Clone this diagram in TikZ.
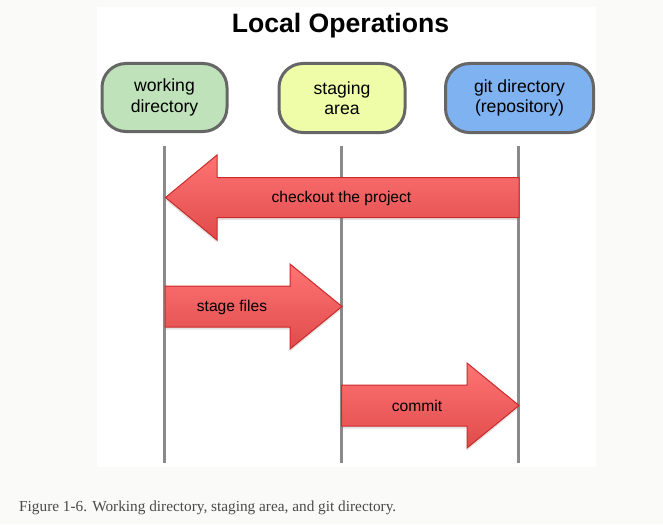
\documentclass[tikz,border=0pt]{standalone}
\usepackage{fontspec}
\setmainfont{Liberation Sans}
\newfontfamily\captionfont{Liberation Serif}
\usetikzlibrary{shadows}
\definecolor{pagebg}{HTML}{FAFAF8}
\definecolor{boxborder}{HTML}{666666}
\definecolor{wdfill}{HTML}{BFE2BA}
\definecolor{safill}{HTML}{EFFCA8}
\definecolor{gdfill}{HTML}{7FB2F0}
\definecolor{lifeline}{HTML}{8A8A8A}
\definecolor{arrowtop}{HTML}{FF7474}
\definecolor{arrowbot}{HTML}{E04B4B}
\definecolor{arrowline}{HTML}{CC2A2A}
\definecolor{captiontext}{HTML}{4A4A4A}
\tikzset{
  areabox/.style={rectangle, rounded corners=24pt, draw=boxborder, line width=3pt,
    align=center, font=\fontsize{17.6}{20.5}\selectfont, inner sep=0pt},
  lifelinestyle/.style={draw=lifeline, line width=3pt},
  bigarrow/.style={top color=arrowtop, bottom color=arrowbot, draw=arrowline, line width=1pt,
    drop shadow={opacity=0.22, shadow xshift=0pt, shadow yshift=-2.5pt}},
  arrowlabel/.style={anchor=base, font=\fontsize{15.6}{18}\selectfont, inner sep=0pt}
}
\begin{document}
\begin{tikzpicture}[x=1pt,y=-1pt]
  \useasboundingbox (0,0) rectangle (663,524);
  \fill[pagebg] (0,0) rectangle (663,524);
  \fill[white] (97,7) rectangle (596,467);

  \node[anchor=base, font=\fontsize{26.6}{30}\selectfont\bfseries] (title) at (340.5,33) {Local Operations};

  \node[areabox, fill=wdfill, minimum width=125pt, minimum height=68pt] (wd) at (164.5,97.5) {working\\directory};
  \node[areabox, fill=safill, minimum width=126pt, minimum height=69pt] (sa) at (342,98) {staging\\area};
  \node[areabox, fill=gdfill, minimum width=148pt, minimum height=69pt] (gd) at (519.5,98) {git directory\\(repository)};

  \coordinate (wdtop) at (164.5,146);
  \coordinate (wdbot) at (164.5,463);
  \coordinate (satop) at (341.5,146);
  \coordinate (sabot) at (341.5,463);
  \coordinate (gdtop) at (518.5,146);
  \coordinate (gdbot) at (518.5,463);
  \draw[lifelinestyle] (wdtop) -- (wdbot);
  \draw[lifelinestyle] (satop) -- (sabot);
  \draw[lifelinestyle] (gdtop) -- (gdbot);

  % checkout the project
  \path[bigarrow] (519,177.5) -- (217,177.5) -- (217,155) -- (165.5,197.5) -- (217,240) -- (217,217.5) -- (519,217.5) -- cycle;
  \node[arrowlabel] (checkout) at (341.5,202) {checkout the project};

  % stage files
  \path[bigarrow] (165,286) -- (290,286) -- (290,264) -- (342,306.5) -- (290,349) -- (290,327) -- (165,327) -- cycle;
  \node[arrowlabel] (stage) at (232,311.5) {stage files};

  % commit
  \path[bigarrow] (341.5,385) -- (467,385) -- (467,363) -- (519,405.5) -- (467,448) -- (467,426) -- (341.5,426) -- cycle;
  \node[arrowlabel] (commit) at (417,411) {commit};

  \node[anchor=base west, inner sep=0pt, text=captiontext, font=\captionfont\fontsize{15.3}{18}\selectfont] (caption) at (19,511.5) {Figure 1-6. Working directory, staging area, and git directory.};
\end{tikzpicture}
\end{document}
